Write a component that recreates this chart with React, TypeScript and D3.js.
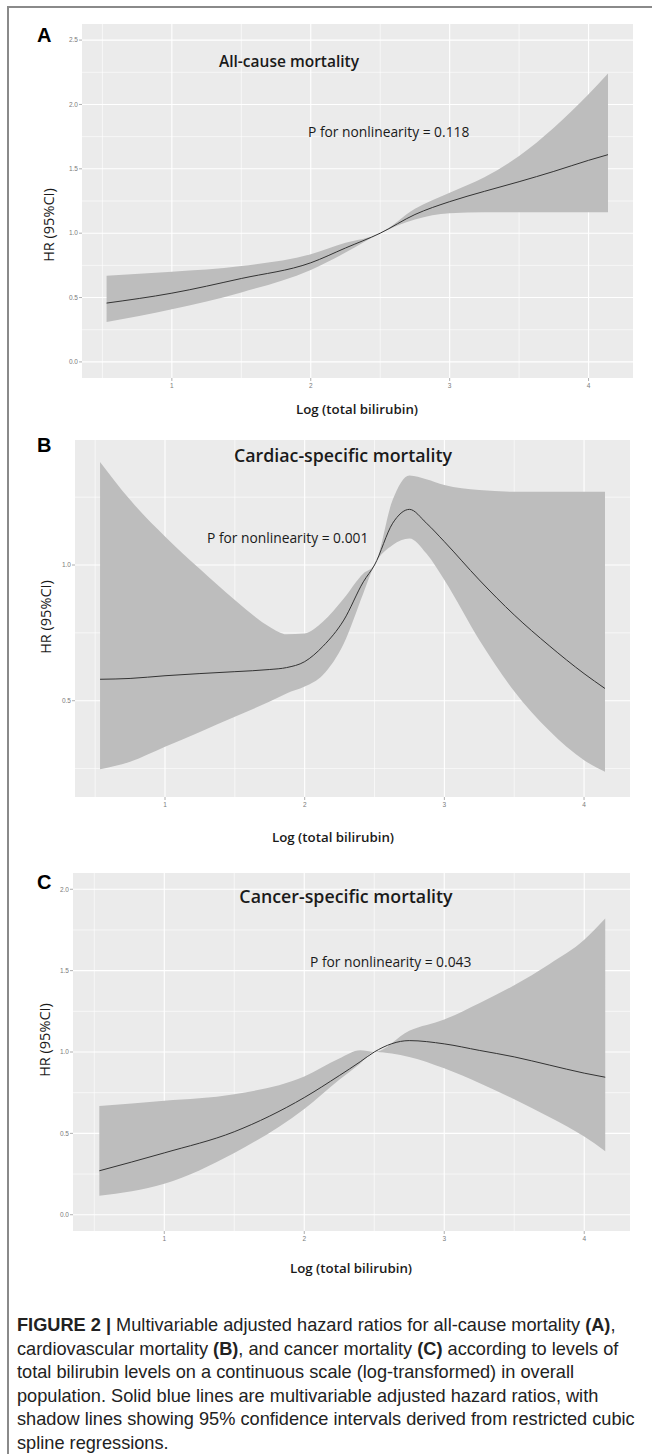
import { scaleLinear, area, line, curveMonotoneX } from "d3";

const W = 652;
const H = 1454;

// A: all-cause mortality
const xA = [0.53, 1.0, 1.5, 2.0, 2.25, 2.5, 2.75, 3.0, 3.25, 3.5, 3.75, 4.0, 4.14];
const hrA = [0.457, 0.534, 0.648, 0.77, 0.885, 1.0, 1.145, 1.245, 1.325, 1.4, 1.48, 1.566, 1.61];
const upA = [0.67, 0.7, 0.745, 0.836, 0.925, 1.0, 1.19, 1.315, 1.435, 1.6, 1.82, 2.08, 2.24];
const loA = [0.31, 0.41, 0.54, 0.714, 0.849, 1.0, 1.107, 1.155, 1.163, 1.163, 1.163, 1.163, 1.163];

// B: cardiac-specific mortality
const xB = [0.535, 0.75, 1.0, 1.25, 1.5, 1.75, 1.87, 2.0, 2.13, 2.28, 2.42, 2.5, 2.63, 2.75, 2.87, 3.0, 3.25, 3.5, 3.75, 4.0, 4.15];
const hrB = [0.579, 0.582, 0.592, 0.6, 0.607, 0.615, 0.622, 0.644, 0.7, 0.797, 0.938, 1.0, 1.154, 1.205, 1.155, 1.086, 0.945, 0.816, 0.703, 0.6, 0.545];
const upB = [1.38, 1.24, 1.105, 0.985, 0.871, 0.772, 0.745, 0.748, 0.791, 0.877, 0.969, 1.0, 1.24, 1.33, 1.316, 1.295, 1.276, 1.27, 1.27, 1.27, 1.27];
const loB = [0.247, 0.275, 0.33, 0.385, 0.441, 0.497, 0.527, 0.552, 0.595, 0.711, 0.896, 1.0, 1.074, 1.098, 1.043, 0.945, 0.724, 0.535, 0.39, 0.281, 0.238];

// C: cancer-specific mortality
const xC = [0.536, 1.0, 1.5, 2.0, 2.25, 2.4, 2.5, 2.75, 3.0, 3.25, 3.5, 3.75, 4.0, 4.15];
const hrC = [0.27, 0.38, 0.51, 0.72, 0.855, 0.94, 1.0, 1.07, 1.05, 1.01, 0.97, 0.92, 0.87, 0.845];
const upC = [0.668, 0.7, 0.74, 0.85, 0.96, 1.01, 1.0, 1.13, 1.2, 1.3, 1.41, 1.54, 1.69, 1.82];
const loC = [0.116, 0.19, 0.38, 0.65, 0.83, 0.93, 1.0, 0.97, 0.9, 0.81, 0.71, 0.6, 0.48, 0.39];

const xTicks = [1, 2, 3, 4];
const yTicksA = [0, 0.5, 1.0, 1.5, 2.0, 2.5];
const yTicksB = [0.5, 1.0];
const yTicksC = [0, 0.5, 1.0, 1.5, 2.0];

const captionLines = [
  [["FIGURE 2 | ", true], ["Multivariable adjusted hazard ratios for all-cause mortality ", false], ["(A)", true], [",", false]],
  [["cardiovascular mortality ", false], ["(B)", true], [", and cancer mortality ", false], ["(C)", true], [" according to levels of", false]],
  [["total bilirubin levels on a continuous scale (log-transformed) in overall", false]],
  [["population. Solid blue lines are multivariable adjusted hazard ratios, with", false]],
  [["shadow lines showing 95% confidence intervals derived from restricted cubic", false]],
  [["spline regressions.", false]],
] as [string, boolean][][];

const TITLE_FONT = "'Open Sans', sans-serif";

type PanelProps = {
  box: { l: number; t: number; r: number; b: number };
  xDom: [number, number];
  yDom: [number, number];
  yTicks: number[];
  xs: number[];
  hr: number[];
  up: number[];
  lo: number[];
  letter: string;
  letterY: number;
  title: string;
  titleX: number;
  titleY: number;
  titleSize: number;
  pText: string;
  pX: number;
  pY: number;
  xLabX: number;
  xLabY: number;
  yLabX: number;
  yLabY: number;
};

function Panel(p: PanelProps) {
  const x = scaleLinear().domain(p.xDom).range([p.box.l, p.box.r]);
  const y = scaleLinear().domain(p.yDom).range([p.box.b, p.box.t]);
  const pts = p.xs.map((v, i) => ({ x: v, hr: p.hr[i], up: p.up[i], lo: p.lo[i] }));
  const band = area<any>()
    .x((d) => x(d.x))
    .y0((d) => y(d.lo))
    .y1((d) => y(d.up))
    .curve(curveMonotoneX);
  const ln = line<any>()
    .x((d) => x(d.x))
    .y((d) => y(d.hr))
    .curve(curveMonotoneX);
  const stepY = p.yTicks.length > 1 ? p.yTicks[1] - p.yTicks[0] : 0.5;
  const inY = (v: number) => v > p.yDom[0] && v < p.yDom[1];
  const inX = (v: number) => v > p.xDom[0] && v < p.xDom[1];
  const minorY = [p.yTicks[0] - stepY / 2, ...p.yTicks.map((t) => t + stepY / 2)].filter(inY);
  const minorX = [0.5, 1.5, 2.5, 3.5, 4.5].filter(inX);
  return (
    <g>
      <text x={37} y={p.letterY} fontFamily="'Liberation Sans', Arial, sans-serif" fontWeight="bold" fontSize={20} fill="#000">
        {p.letter}
      </text>
      <rect x={p.box.l} y={p.box.t} width={p.box.r - p.box.l} height={p.box.b - p.box.t} fill="#ebebeb" />
      {minorY.map((v) => (
        <line key={"my" + v} x1={p.box.l} x2={p.box.r} y1={y(v)} y2={y(v)} stroke="#fff" strokeWidth={0.6} />
      ))}
      {minorX.map((v) => (
        <line key={"mx" + v} x1={x(v)} x2={x(v)} y1={p.box.t} y2={p.box.b} stroke="#fff" strokeWidth={0.6} />
      ))}
      {p.yTicks.map((v) => (
        <line key={"gy" + v} x1={p.box.l} x2={p.box.r} y1={y(v)} y2={y(v)} stroke="#fff" strokeWidth={1.1} />
      ))}
      {xTicks.map((v) => (
        <line key={"gx" + v} x1={x(v)} x2={x(v)} y1={p.box.t} y2={p.box.b} stroke="#fff" strokeWidth={1.1} />
      ))}
      <path d={band(pts) || ""} fill="#bdbdbd" />
      <path d={ln(pts) || ""} fill="none" stroke="#333" strokeWidth={1} />
      {p.yTicks.map((v) => (
        <g key={"ty" + v}>
          <line x1={p.box.l - 3} x2={p.box.l} y1={y(v)} y2={y(v)} stroke="#9a9a9a" strokeWidth={0.8} />
          <text x={p.box.l - 4} y={y(v) + 2.3} textAnchor="end" fontFamily="'Liberation Sans', Arial, sans-serif" fontSize={6.5} fill="#7a7a7a">
            {v.toFixed(1)}
          </text>
        </g>
      ))}
      {xTicks.map((v) => (
        <g key={"tx" + v}>
          <line x1={x(v)} x2={x(v)} y1={p.box.b} y2={p.box.b + 3} stroke="#9a9a9a" strokeWidth={0.8} />
          <text x={x(v)} y={p.box.b + 10} textAnchor="middle" fontFamily="'Liberation Sans', Arial, sans-serif" fontSize={6.5} fill="#7a7a7a">
            {v}
          </text>
        </g>
      ))}
      <text x={p.titleX} y={p.titleY} textAnchor="middle" fontFamily={TITLE_FONT} fontWeight={600} fontSize={p.titleSize} fill="#1a1a1a">
        {p.title}
      </text>
      <text x={p.pX} y={p.pY} fontFamily={TITLE_FONT} fontSize={13.8} fill="#1a1a1a">
        {p.pText}
      </text>
      <text x={p.xLabX} y={p.xLabY} textAnchor="middle" fontFamily={TITLE_FONT} fontWeight={600} fontSize={13.3} fill="#1a1a1a">
        Log (total bilirubin)
      </text>
      <text
        transform={`translate(${p.yLabX},${p.yLabY}) rotate(-90)`}
        textAnchor="middle"
        fontFamily={TITLE_FONT}
        fontSize={14.5}
        fill="#1a1a1a"
      >
        HR (95%CI)
      </text>
    </g>
  );
}

export default function App() {
  return (
    <svg width={W} height={H} style={{ position: "absolute", left: 0, top: 0, background: "#fff" }}>
      <line x1={8} x2={W} y1={7} y2={7} stroke="#8a8a8a" strokeWidth={2} />
      <line x1={8} x2={8} y1={6} y2={H} stroke="#8a8a8a" strokeWidth={2} />
      <Panel
        box={{ l: 82, t: 24, r: 633, b: 378 }}
        xDom={[0.353, 4.32]}
        yDom={[-0.125, 2.625]}
        yTicks={yTicksA}
        xs={xA}
        hr={hrA}
        up={upA}
        lo={loA}
        letter="A"
        letterY={42}
        title="All-cause mortality"
        titleX={289}
        titleY={67}
        titleSize={15.5}
        pText="P for nonlinearity = 0.118"
        pX={308}
        pY={137}
        xLabX={357}
        xLabY={414}
        yLabX={54}
        yLabY={225}
      />
      <Panel
        box={{ l: 75, t: 440, r: 630, b: 797 }}
        xDom={[0.3556, 4.329]}
        yDom={[0.1452, 1.4606]}
        yTicks={yTicksB}
        xs={xB}
        hr={hrB}
        up={upB}
        lo={loB}
        letter="B"
        letterY={452}
        title="Cardiac-specific mortality"
        titleX={343}
        titleY={462}
        titleSize={17.8}
        pText="P for nonlinearity = 0.001"
        pX={207}
        pY={543}
        xLabX={333}
        xLabY={842}
        yLabX={51}
        yLabY={617}
      />
      <Panel
        box={{ l: 73, t: 873, r: 630, b: 1231 }}
        xDom={[0.348, 4.327]}
        yDom={[-0.1, 2.1]}
        yTicks={yTicksC}
        xs={xC}
        hr={hrC}
        up={upC}
        lo={loC}
        letter="C"
        letterY={889}
        title="Cancer-specific mortality"
        titleX={346}
        titleY={903}
        titleSize={17.8}
        pText="P for nonlinearity = 0.043"
        pX={310}
        pY={967}
        xLabX={351}
        xLabY={1273}
        yLabX={50}
        yLabY={1040}
      />
      <g fontFamily="'Liberation Sans Narrow', 'Arial Narrow', sans-serif" fontSize={18.2} fill="#222">
        {captionLines.map((parts, i) => (
          <text key={i} x={17} y={1331 + i * 23.5}>
            {parts.map(([t, b], j) => (
              <tspan key={j} fontWeight={b ? "bold" : "normal"}>
                {t}
              </tspan>
            ))}
          </text>
        ))}
      </g>
    </svg>
  );
}
